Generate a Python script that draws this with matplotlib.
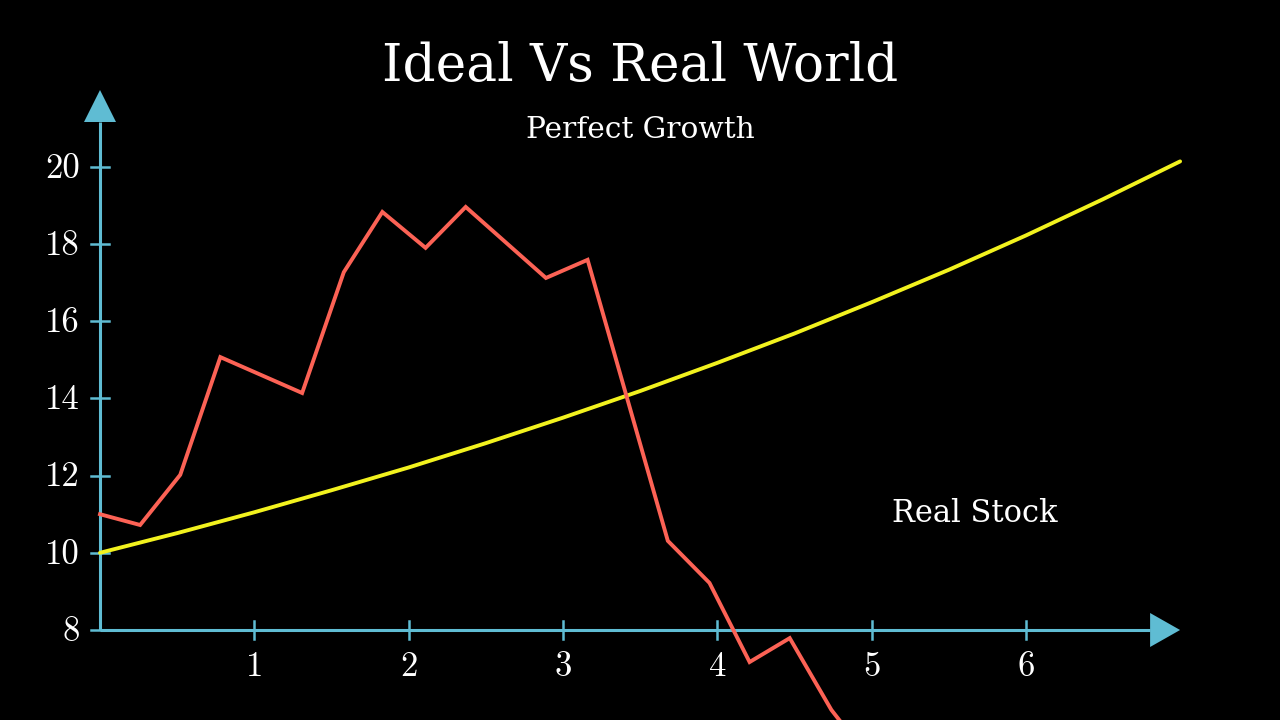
import numpy as np
import matplotlib.pyplot as plt
from matplotlib.patches import Polygon

# ideal growth curve
ideal_x = [0, 0.5, 1, 1.5, 2, 2.5, 3, 3.5, 4, 4.5, 5, 5.5, 6, 6.5, 7]
ideal_y = [10.0, 10.51, 11.05, 11.62, 12.21, 12.84, 13.5, 14.19, 14.92, 15.68,
           16.49, 17.33, 18.22, 19.16, 20.14]

# real stock path
stock_x = [0, 0.26, 0.52, 0.78, 1.31, 1.58, 1.83, 2.11, 2.37, 2.89, 3.16,
           3.68, 3.95, 4.21, 4.47, 4.74, 5.0]
stock_y = [11.0, 10.72, 12.02, 15.07, 14.14, 17.27, 18.83, 17.9, 18.96, 17.12,
           17.59, 10.31, 9.22, 7.17, 7.79, 5.93, 4.6]

x_ticks = [1, 2, 3, 4, 5, 6]
y_ticks = [8, 10, 12, 14, 16, 18, 20]

axis_col = '#5FBCD3'
red = '#FC6255'
yellow = '#F2F21E'

fig = plt.figure(figsize=(12.8, 7.2), dpi=100, facecolor='black')
ax = fig.add_axes([0, 0, 1, 1])
ax.set_facecolor('black')

# pixel scale of the reference: 154.3 px per x unit, 38.6 px per y unit
x_lo, x_hi = -100 / 154.3, 1180 / 154.3
y_lo, y_hi = 8 - 90 / 38.6, 8 + 630 / 38.6
ax.set_xlim(x_lo, x_hi)
ax.set_ylim(y_lo, y_hi)
ax.axis('off')

px = 1 / 154.3
py = 1 / 38.6

# axes lines
x_end = 7.0 - 30 * px
y_end = 8 + 508 * py
ax.plot([0, x_end], [8, 8], color=axis_col, lw=2.2, solid_capstyle='butt')
ax.plot([0, 0], [8, y_end], color=axis_col, lw=2.2, solid_capstyle='butt')
ax.add_patch(Polygon([[x_end, 8 + 17 * py], [x_end, 8 - 17 * py], [7.0, 8]],
                     closed=True, color=axis_col, lw=0))
ax.add_patch(Polygon([[-16 * px, y_end], [16 * px, y_end], [0, 8 + 540 * py]],
                     closed=True, color=axis_col, lw=0))

# ticks
for t in x_ticks:
    ax.plot([t, t], [8 - 9 * py, 8 + 9 * py], color=axis_col, lw=1.8)
    ax.text(t, 8 - 37 * py, str(t), color='white', fontsize=25,
            family='cmr10', ha='center', va='center')
for t in y_ticks:
    ax.plot([-9 * px, 9 * px], [t, t], color=axis_col, lw=1.8)
    ax.text(-20 * px, t - 2 * py, str(t), color='white', fontsize=25,
            family='cmr10', ha='right', va='center')

# data lines
ax.plot(ideal_x, ideal_y, color=yellow, lw=2.8, solid_capstyle='round')
ax.plot(stock_x, stock_y, color=red, lw=2.8, solid_joinstyle='miter')

# texts
fig.text(0.5, 1 - 67 / 720, 'Ideal Vs Real World', color='white',
         fontsize=37.2, family='DejaVu Serif', ha='center', va='center')
fig.text(0.5, 1 - 130 / 720, 'Perfect Growth', color='white',
         fontsize=21.3, family='DejaVu Serif', ha='center', va='center')
fig.text(975 / 1280, 1 - 514 / 720, 'Real Stock', color='white',
         fontsize=22, family='DejaVu Serif', ha='center', va='center')

fig.savefig('out.png', dpi=100, facecolor='black')
